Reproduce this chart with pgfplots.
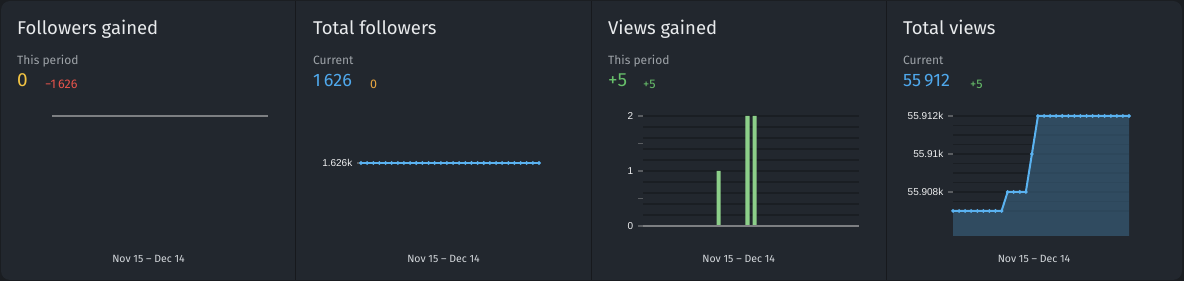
\documentclass[border=0pt]{standalone}
\usepackage{fontspec}
\setmainfont{Fira Sans}
\newfontfamily\tickfont{Liberation Sans}
\usepackage{pgfplots}
\pgfplotsset{compat=1.18}
\definecolor{outer}{HTML}{1A1D21}
\definecolor{bg}{HTML}{22272E}
\definecolor{sep}{HTML}{17191D}
\definecolor{titlec}{HTML}{E8EAEC}
\definecolor{subc}{HTML}{9EA3A8}
\definecolor{yel}{HTML}{F3C443}
\definecolor{org}{HTML}{E9A640}
\definecolor{redc}{HTML}{E5534B}
\definecolor{bluec}{HTML}{4FA8EC}
\definecolor{greenc}{HTML}{67BF6A}
\definecolor{barg}{HTML}{8CCF89}
\definecolor{lineb}{HTML}{5AB2F0}
\definecolor{markc}{HTML}{3F7AA8}
\definecolor{areac}{HTML}{3D6A8A}
\definecolor{gridc}{HTML}{1A1E23}
\definecolor{axisg}{HTML}{7D7F82}
\definecolor{tickc}{HTML}{5A5D61}
\definecolor{ticklab}{HTML}{EEEFF0}
\definecolor{datec}{HTML}{D4D8DC}
\makeatletter
% exact offset of the views axis (TeX precision), handles plain and fpu-encoded input
\def\vtrafo#1#2{\in@{Y}{#1}\ifin@\pgfmathfloattofixed{#1}\else\edef\pgfmathresult{#1}\fi
  \edef\pgfmathresult{\fpeval{\pgfmathresult #2 55900}}}
\makeatother
\pgfplotsset{
  panel/.style={scale only axis, anchor=north west,
    axis lines*=left, axis line style={draw=none},
    xtick=\empty, tick align=outside, major tick length=5pt, minor tick length=5pt,
    every tick/.style={tickc, line width=1.5pt},
    /pgf/number format/assume math mode=true,
    yticklabel style={font=\tickfont\fontsize{10}{10}\selectfont, text=ticklab, inner sep=0pt, anchor=east, xshift=-4.5pt},
    major grid style={gridc, line width=1.5pt}},
}
\begin{document}
\begin{tikzpicture}[x=1pt,y=1pt]
\useasboundingbox (0,0) rectangle (1184,281);
\fill[outer] (0,0) rectangle (1184,281);
\fill[bg, rounded corners=9pt] (1,1) rectangle (1182,280);
\foreach \xs in {295.5,591.5,886.5} \draw[sep, line width=1.5pt] (\xs,1) -- (\xs,280);
% titles
\foreach \xx/\ttl in {17/Followers gained,313/Total followers,608/Views gained,903/Total views}
  \node[anchor=base west, inner sep=0pt, text=titlec, font=\fontsize{18.5}{20}\selectfont] at (\xx,246) {\ttl};
\foreach \xx/\ttl in {17/This period,313/Current,608/This period,903/Current}
  \node[anchor=base west, inner sep=0pt, text=subc, font=\fontsize{12}{14}\selectfont] at (\xx,216) {\ttl};
\node[anchor=base west, inner sep=0pt, text=yel, font=\fontsize{19}{20}\selectfont] at (17,194.3) {0};
\node[anchor=base west, inner sep=0pt, text=redc, font=\fontsize{12.5}{14}\selectfont] at (45,192.7) {−1\,626};
\node[anchor=base west, inner sep=0pt, text=bluec, font=\fontsize{18}{20}\selectfont] at (313,194.3) {1\,626};
\node[anchor=base west, inner sep=0pt, text=org, font=\fontsize{12.5}{14}\selectfont] at (370,192.7) {0};
\node[anchor=base west, inner sep=0pt, text=greenc, font=\fontsize{19}{20}\selectfont] at (608,194.3) {+5};
\node[anchor=base west, inner sep=0pt, text=greenc, font=\fontsize{12.5}{14}\selectfont] at (643,192.7) {+5};
\node[anchor=base west, inner sep=0pt, text=bluec, font=\fontsize{18}{20}\selectfont] at (903,194.3) {55\,912};
\node[anchor=base west, inner sep=0pt, text=greenc, font=\fontsize{12.5}{14}\selectfont] at (970,192.7) {+5};
\foreach \xx in {148.5,443.5,738.7,1034}
  \node[anchor=base, inner sep=0pt, text=datec, font=\fontsize{10.5}{12}\selectfont] at (\xx,18.7) {Nov 15 – Dec 14};

% Panel 1: followers gained (all zero)
\begin{axis}[panel, at={(52pt,165pt)}, width=216pt, height=50pt, xmin=0, xmax=29, ymin=-1, ymax=0, hide axis, clip=false]
\addplot[axisg, line width=1.5pt] coordinates {(0,0) (1,0) (2,0) (3,0) (4,0) (5,0) (6,0) (7,0) (8,0) (9,0) (10,0) (11,0) (12,0) (13,0) (14,0) (15,0) (16,0) (17,0) (18,0) (19,0) (20,0) (21,0) (22,0) (23,0) (24,0) (25,0) (26,0) (27,0) (28,0) (29,0)};
\end{axis}

% Panel 2: total followers
\begin{axis}[panel, at={(361pt,165pt)}, width=178pt, height=94pt, xmin=0, xmax=29, ymin=1625, ymax=1627,
  ytick={1626}, yticklabels={1.626k}, major tick length=4pt, clip=false]
\addplot[lineb, line width=2pt, mark=*, mark size=0.6pt, mark options={fill=markc, draw=none}] coordinates {(0,1626) (1,1626) (2,1626) (3,1626) (4,1626) (5,1626) (6,1626) (7,1626) (8,1626) (9,1626) (10,1626) (11,1626) (12,1626) (13,1626) (14,1626) (15,1626) (16,1626) (17,1626) (18,1626) (19,1626) (20,1626) (21,1626) (22,1626) (23,1626) (24,1626) (25,1626) (26,1626) (27,1626) (28,1626) (29,1626)};
\end{axis}

% Panel 3: views gained
\begin{axis}[panel, at={(643pt,165pt)}, width=216pt, height=110pt, xmin=0, xmax=30, ymin=0, ymax=2,
  ytick={0,1,2}, minor ytick={0.5,1.5},
  extra y ticks={0.2,0.4,0.6,0.8,1,1.2,1.4,1.6,1.8,2}, extra y tick labels={},
  extra y tick style={grid=major, major tick length=0pt},
  clip=false]
\addplot[ybar, bar width=4.2pt, bar shift=0pt, fill=barg, draw=none] coordinates {(0.5,0) (1.5,0) (2.5,0) (3.5,0) (4.5,0) (5.5,0) (6.5,0) (7.5,0) (8.5,0) (9.5,0) (10.5,1) (11.5,0) (12.5,0) (13.5,0) (14.5,2) (15.5,2) (16.5,0) (17.5,0) (18.5,0) (19.5,0) (20.5,0) (21.5,0) (22.5,0) (23.5,0) (24.5,0) (25.5,0) (26.5,0) (27.5,0) (28.5,0) (29.5,0)};
\addplot[axisg, line width=2pt] coordinates {(0,0) (30,0)};
\end{axis}

% Panel 4: total views
\begin{axis}[panel, at={(953pt,168.8pt)}, width=176pt, height=123.8pt, xmin=0, xmax=29,
  y coord trafo/.code={\vtrafo{#1}{-}},
  y coord inv trafo/.code={\vtrafo{#1}{+}},
  ymin=55905.684, ymax=55912.2,
  ytick={55908,55910,55912}, yticklabels={55.908k,55.91k,55.912k},
  extra y ticks={55907,55907.5,55908,55908.5,55909,55909.5,55910,55910.5,55911,55911.5,55912}, extra y tick labels={},
  extra y tick style={grid=major, major tick length=0pt}]
\addplot[draw=none, fill=areac, fill opacity=0.55] coordinates {(0,55905.684) (0,55907) (1,55907) (2,55907) (3,55907) (4,55907) (5,55907) (6,55907) (7,55907) (8,55907) (9,55908) (10,55908) (11,55908) (12,55908) (13,55910) (14,55912) (15,55912) (16,55912) (17,55912) (18,55912) (19,55912) (20,55912) (21,55912) (22,55912) (23,55912) (24,55912) (25,55912) (26,55912) (27,55912) (28,55912) (29,55912) (29,55905.684)} -- cycle;
\addplot[lineb, line width=2pt, mark=*, mark size=0.6pt, mark options={fill=markc, draw=none}] coordinates {(0,55907) (1,55907) (2,55907) (3,55907) (4,55907) (5,55907) (6,55907) (7,55907) (8,55907) (9,55908) (10,55908) (11,55908) (12,55908) (13,55910) (14,55912) (15,55912) (16,55912) (17,55912) (18,55912) (19,55912) (20,55912) (21,55912) (22,55912) (23,55912) (24,55912) (25,55912) (26,55912) (27,55912) (28,55912) (29,55912)};
\end{axis}
\end{tikzpicture}
\end{document}
